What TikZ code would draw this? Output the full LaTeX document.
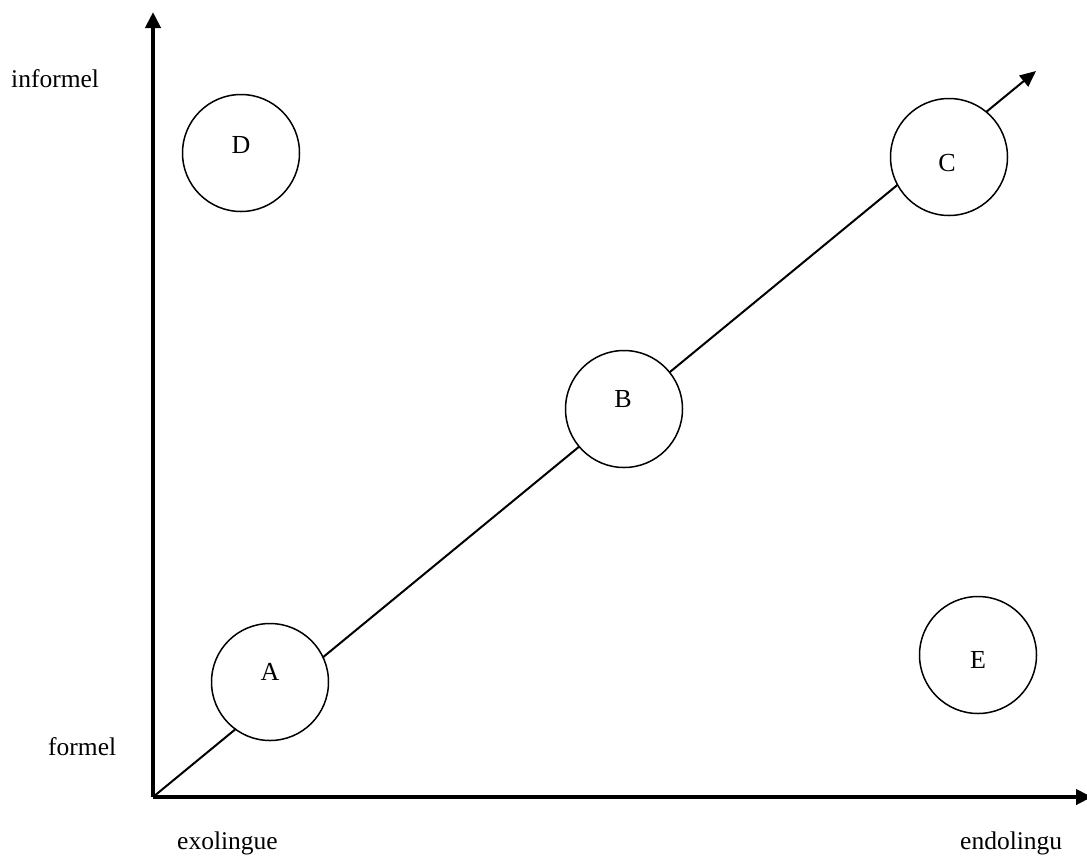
\documentclass[tikz,border=0pt]{standalone}
\usepackage{fontspec}
\setmainfont{Liberation Serif}
\usetikzlibrary{arrows.meta}
\begin{document}
\begin{tikzpicture}[x=1pt,y=-1pt,
  axis/.style={line width=4pt,-{Triangle[length=16pt,width=15pt]}},
  diag/.style={line width=2pt,-{Triangle[length=16pt,width=14pt]}},
  bubble/.style={circle,draw,line width=1.5pt,fill=white,minimum size=117pt,inner sep=0pt},
  lbl/.style={font=\fontsize{25.5}{30}\selectfont,inner sep=0pt,anchor=base west},
  letter/.style={font=\fontsize{26}{30}\selectfont,inner sep=0pt}]
\useasboundingbox (0,0) rectangle (1087,855);
\coordinate (O) at (153,797);
\coordinate (Ytip) at (153,12);
\coordinate (Xtip) at (1092,797);
\coordinate (Dtip) at (1036,71);
\draw[axis] (O) -- (Ytip);
\draw[axis] (O) -- (Xtip);
\draw[diag] (O) -- (Dtip);
\node[bubble] (A) at (270,682) {};
\node[bubble] (B) at (624,409) {};
\node[bubble] (C) at (949,157) {};
\node[bubble] (D) at (241,153) {};
\node[bubble] (E) at (978,655) {};
\node[letter] (tA) at (270,672) {A};
\node[letter] (tB) at (623,399) {B};
\node[letter] (tC) at (947,163) {C};
\node[letter] (tD) at (241,145) {D};
\node[letter] (tE) at (978,660) {E};
\node[lbl] (inf) at (11,87) {informel};
\node[lbl] (for) at (48,755) {formel};
\node[lbl] (exo) at (177,849) {exolingue};
\node[lbl] (endo) at (960,849) {endolingu};
\end{tikzpicture}
\end{document}
